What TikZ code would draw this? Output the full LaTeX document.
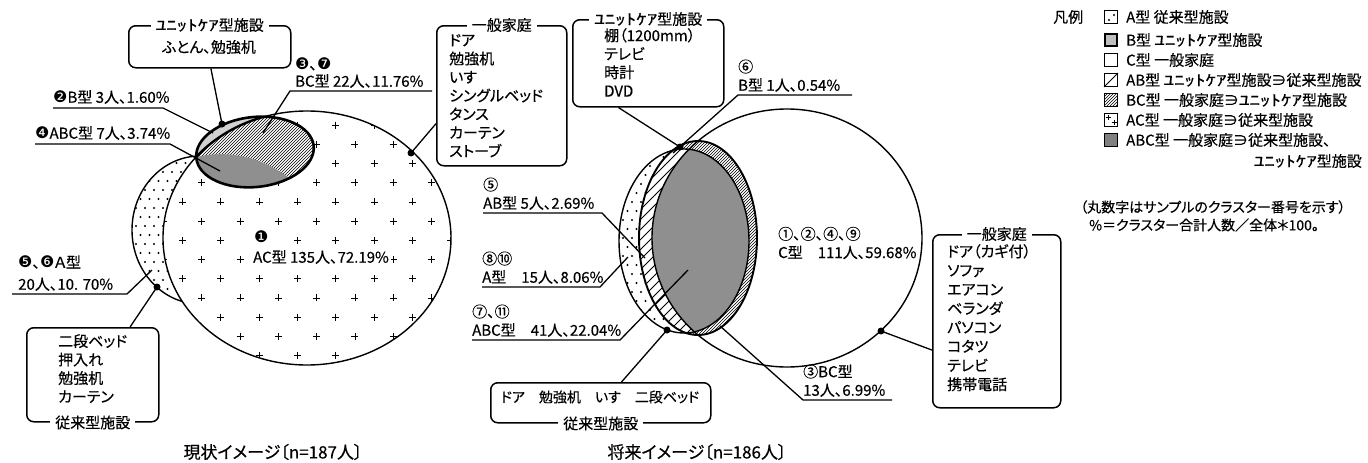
\documentclass[tikz,border=0pt]{standalone}
\usepackage{fontspec}
\setmainfont{Noto Sans CJK JP}[RawFeature={+palt}, FakeBold=0.4]
\newfontfamily\hwf{Noto Sans CJK JP}[FakeBold=0.4]
\newfontfamily\djv{DejaVu Sans}
\usetikzlibrary{patterns,calc}
\newcommand\nbk[1]{{\djv\fontsize{16}{16}\selectfont #1}}
\newcommand\uc{\scalebox{1.4}[1]{\hwf ﾕﾆｯﾄｹｱ}}
\begin{document}
\begin{tikzpicture}[x=1pt,y=-1pt,
  font=\fontsize{15}{18.5}\selectfont,
  ol/.style={line width=1.4pt},
  ldr/.style={line width=1.3pt},
  ibox/.style={draw, rounded corners=7pt, line width=1.5pt, inner sep=0pt, anchor=north west},
  ttl/.style={fill=white, inner xsep=5pt, inner ysep=1pt},
  itm/.style={align=left, inner sep=0pt, anchor=north west},
  lbl/.style={align=left, inner sep=0pt, anchor=south west},
  blob/.style={circle, fill=black, inner sep=0pt, minimum size=7pt},
  lgd/.style={draw, line width=0.9pt, minimum size=13pt, inner sep=0pt},
  lgt/.style={anchor=west, inner sep=0pt}]
\useasboundingbox (0,0) rectangle (1368,463);

% ================= LEFT DIAGRAM =================
\begin{scope}
  \clip (200,230) ellipse [x radius=68, y radius=74];
  \fill[white] (120,150) rectangle (280,310);
  \foreach \i in {0,...,18} \foreach \j in {0,...,18}
    \fill ({127+9*\i+4.5*mod(\j,2)},{154+9*\j}) circle (1.15);
\end{scope}
\draw[ol] (200,230) ellipse [x radius=68, y radius=74];
\fill[white] (307,238) ellipse [x radius=144, y radius=127];
\begin{scope}
  \clip (307,238) ellipse [x radius=144, y radius=127];
  \foreach \j in {-4,...,10} \foreach \k in {-2,...,8} {
    \pgfmathsetmacro\cx{201.7+38.3*\k-19.15*mod(abs(\j),2)}
    \pgfmathsetmacro\cy{182.7+19.2*\j}
    \draw[line width=0.8pt] (\cx-3.5,\cy) -- (\cx+3.5,\cy) (\cx,\cy-3.5) -- (\cx,\cy+3.5);
  }
\end{scope}
\draw[ol] (307,238) ellipse [x radius=144, y radius=127];
\node[fill=white, inner sep=2pt, anchor=west] (l1n) at (252,237) {\nbk{❶}};
\node[fill=white, inner sep=2pt, anchor=west] (l1) at (251,257) {AC型 135人、72.19\%};
% small ellipse (B)
\fill[black!18, rotate around={6:(255,152)}] (255,152) ellipse [x radius=59, y radius=35];
\begin{scope}
  \clip (307,238) ellipse [x radius=144, y radius=127];
  \fill[white, rotate around={6:(255,152)}] (255,152) ellipse [x radius=59, y radius=35];
  \fill[pattern=north east lines, rotate around={6:(255,152)}] (255,152) ellipse [x radius=59, y radius=35];
\end{scope}
\begin{scope}
  \clip[rotate around={6:(255,152)}] (255,152) ellipse [x radius=59, y radius=35];
  \fill[black!44] (185,157) -- (197,157) .. controls (230,149) and (268,158) .. (296,184) -- (300,230) -- (185,230) -- cycle;
  \draw[line width=2.4pt] (307,238) ellipse [x radius=144, y radius=127];
\end{scope}
\draw[line width=2.6pt, rotate around={6:(255,152)}] (255,152) ellipse [x radius=59, y radius=35];

% boxes left
\node[ibox, minimum width=162pt, minimum height=42pt] (LU) at (128,25) {};
\node[ttl] (LUt) at (LU.north) {\uc 型施設};
\node (LUc) at (209,47) {ふとん、勉強机};
\node[ibox, minimum width=130pt, minimum height=140pt] (LG) at (436,25) {};
\node[ttl] (LGt) at (LG.north) {一般家庭};
\node[itm] (LGc) at (449,34) {ドア\\勉強机\\いす\\シングルベッド\\タンス\\カーテン\\ストーブ};
\node[ibox, minimum width=132pt, minimum height=94pt] (LJ) at (26,327) {};
\node[ttl] (LJt) at (LJ.south) {従来型施設};
\node[itm] (LJc) at (58,334) {二段ベッド\\押入れ\\勉強机\\カーテン};

% pins left
\node[blob] (pLU) at (222,124) {};
\node[blob] (pLG) at (411,153) {};
\node[blob] (pLJ) at (157,287) {};
\draw[ldr] (LU.273) -- (pLU.center);
\draw[ldr] (LG.203) -- (pLG.center);
\draw[ldr] (LJ.52.5) -- (pLJ.center);

% labels left
\node[anchor=west, inner sep=0pt] (l37n) at (295,64) {\nbk{❸}、\nbk{❼}};
\node[lbl] (l37) at (295,88) {BC型 22人、11.76\%};
\coordinate (l37e) at (432,91); \coordinate (l37w) at (290,91); \coordinate (l37t) at (263,133);
\draw[ldr] (l37e) -- (l37w) -- (l37t);
\node[lbl] (l2) at (53,104) {\nbk{❷}B型 3人、1.60\%};
\coordinate (l2w) at (53,108); \coordinate (l2b) at (163,108); \coordinate (l2t) at (213,133);
\draw[ldr] (l2w) -- (l2b) -- (l2t);
\node[lbl] (l4) at (35,140) {\nbk{❹}ABC型 7人、3.74\%};
\coordinate (l4w) at (35,144); \coordinate (l4b) at (170,144); \coordinate (l4t) at (220,171);
\draw[ldr] (l4w) -- (l4b) -- (l4t);
\node[anchor=west, inner sep=0pt] (l56n) at (18,262) {\nbk{❺}、\nbk{❻}Ａ型};
\node[lbl] (l56) at (18,291) {20人、10. 70\%};
\coordinate (l56w) at (12,294); \coordinate (l56b) at (127,294); \coordinate (l56t) at (152,270);
\draw[ldr] (l56w) -- (l56b) -- (l56t);

\node (cap1) at (273,452) {\fontsize{17}{18}\selectfont 現状イメージ〔n=187人〕};

% ================= RIGHT DIAGRAM =================
\fill[white] (787,238) ellipse [x radius=135, y radius=129];
\fill[white] (698,238) ellipse [x radius=59, y radius=97];
\fill[pattern=north east lines] (698,238) ellipse [x radius=59, y radius=97];
\begin{scope}
  \clip (684,241) ellipse [x radius=65, y radius=92];
  \fill[white] (610,140) rectangle (760,340);
  \foreach \i in {0,...,16} \foreach \j in {0,...,22}
    \fill ({614+9*\i+4.5*mod(\j,2)},{148+9*\j}) circle (1.15);
\end{scope}
\begin{scope}
  \clip (684,241) ellipse [x radius=65, y radius=92];
  \clip (698,238) ellipse [x radius=59, y radius=97];
  \fill[white] (610,130) rectangle (780,350);
  \foreach \t in {0,...,42} \draw[line width=0.8pt] ({420+10*\t},360) -- ++(240,-240);
\end{scope}
\begin{scope}
  \clip (684,241) ellipse [x radius=65, y radius=92];
  \clip (698,238) ellipse [x radius=59, y radius=97];
  \clip (787,238) ellipse [x radius=135, y radius=129];
  \fill[black!44] (600,130) rectangle (780,350);
\end{scope}
\draw[ol] (787,238) ellipse [x radius=135, y radius=129];
\draw[ol] (684,241) ellipse [x radius=65, y radius=92];
\draw[line width=1.9pt] (698,238) ellipse [x radius=59, y radius=97];

% boxes right
\node[ibox, minimum width=151pt, minimum height=87pt] (RU) at (572,19) {};
\node[ttl] (RUt) at (RU.north) {\uc 型施設};
\node[itm] (RUc) at (604,28) {棚（1200mm）\\テレビ\\時計\\DVD};
\node[ibox, minimum width=220pt, minimum height=40pt] (RJ) at (490,382) {};
\node[ttl] (RJt) at (RJ.south) {従来型施設};
\node[font=\fontsize{14}{18}\selectfont] (RJc) at (600,397) {ドア　勉強机　いす　二段ベッド};
\node[ibox, minimum width=128pt, minimum height=173pt] (RG) at (932,234) {};
\node[ttl] (RGt) at (RG.north) {一般家庭};
\node[itm, font=\fontsize{15}{19}\selectfont] (RGc) at (947,244) {ドア（カギ付）\\ソファ\\エアコン\\ベランダ\\パソコン\\コタツ\\テレビ\\携帯電話};

% pins right
\node[blob] (pRU) at (680,147) {};
\node[blob] (pRJ) at (667,330) {};
\node[blob] (pRG) at (881,331) {};
\draw[ldr] (RU.236) -- (pRU.center);
\draw[ldr] (RJ.45) -- (pRJ.center);
\draw[ldr] (RG.204.7) -- (pRG.center);

% labels right
\node[lbl] (r6) at (738,92) {⑥\\B型 1人、0.54\%};
\coordinate (r6e) at (852,95); \coordinate (r6w) at (738,95); \coordinate (r6t) at (673,153);
\draw[ldr] (r6e) -- (r6w) -- (r6t);
\node[lbl] (r5) at (483,210) {⑤\\AB型 5人、2.69\%};
\coordinate (r5w) at (483,213); \coordinate (r5b) at (602,213); \coordinate (r5t) at (645,258);
\draw[ldr] (r5w) -- (r5b) -- (r5t);
\node[lbl] (r810) at (482,284) {⑧⑩\\A型　15人、8.06\%};
\coordinate (r810w) at (482,287); \coordinate (r810b) at (600,287); \coordinate (r810t) at (628,257);
\draw[ldr] (r810w) -- (r810b) -- (r810t);
\node[lbl] (r711) at (472,337) {⑦、⑪\\ABC型　41人、22.04\%};
\coordinate (r711w) at (472,340); \coordinate (r711b) at (620,340); \coordinate (r711t) at (688,270);
\draw[ldr] (r711w) -- (r711b) -- (r711t);
\node[lbl] (r3) at (803,397) {③BC型\\13人、6.99\%};
\coordinate (r3e) at (892,400); \coordinate (r3w) at (803,400); \coordinate (r3t) at (720,326);
\draw[ldr] (r3e) -- (r3w) -- (r3t);
\node[align=left, anchor=west, inner sep=0pt] (rC) at (778,243) {①、②、④、⑨\\C型　111人、59.68\%};

\node (cap2) at (697,452) {\fontsize{17}{18}\selectfont 将来イメージ〔n=186人〕};

% ================= LEGEND =================
\node[lgt] (lg0) at (1053,17) {凡例};
\node[lgd] (lgA) at (1111,17) {};
\fill ($(lgA.center)+(-2,3)$) circle (1.1);
\fill ($(lgA.center)+(3,-2)$) circle (1.1);
\node[lgd, line width=2.8pt, fill=black!25, minimum size=12pt] (lgB) at (1111,40) {};
\node[lgd] (lgC) at (1111,60) {};
\node[lgd] (lgAB) at (1111,80) {};
\draw[line width=0.9pt] (lgAB.south west) -- (lgAB.north east);
\node[lgd, pattern=north east lines] (lgBC) at (1111,100) {};
\node[lgd] (lgAC) at (1111,120) {};
\draw[line width=0.7pt] ($(lgAC.center)+(-5.5,-3)$) -- ++(5,0) ($(lgAC.center)+(-3,-5.5)$) -- ++(0,5)
  ($(lgAC.center)+(0.5,2)$) -- ++(5,0) ($(lgAC.center)+(3,-0.5)$) -- ++(0,5);
\node[lgd, fill=black!50] (lgABC) at (1111,140) {};
\node[lgt] (lgtA) at (1126,17) {A型 従来型施設};
\node[lgt] (lgtB) at (1126,40) {B型 \uc 型施設};
\node[lgt] (lgtC) at (1126,60) {C型 一般家庭};
\node[lgt] (lgtAB) at (1126,80) {AB型 \uc 型施設∋従来型施設};
\node[lgt] (lgtBC) at (1126,100) {BC型 一般家庭∋\uc 型施設};
\node[lgt] (lgtAC) at (1126,120) {AC型 一般家庭∋従来型施設};
\node[lgt] (lgtABC) at (1126,140) {ABC型 一般家庭∋従来型施設、};
\node[anchor=east, inner sep=0pt] (lgtU) at (1362,161) {\uc 型施設};
\node[lgt, font=\fontsize{14}{18}\selectfont] (note1) at (1080,207) {（丸数字はサンプルのクラスター番号を示す）};
\node[lgt, font=\fontsize{14}{18}\selectfont] (note2) at (1089,225) {\%＝クラスター合計人数／全体＊100。};
\end{tikzpicture}
\end{document}
